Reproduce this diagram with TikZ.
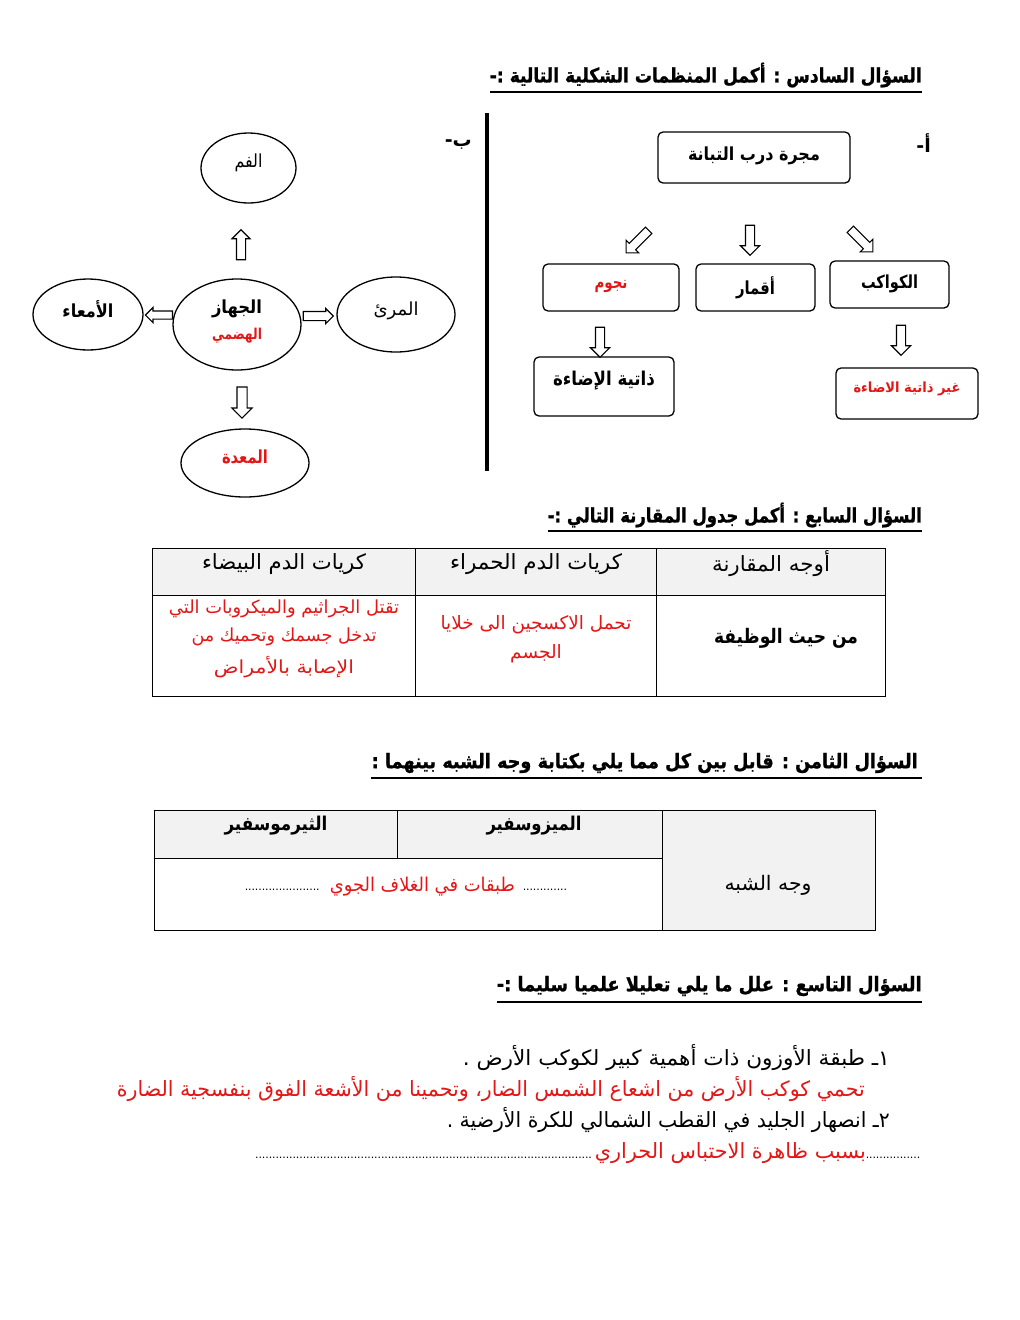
\documentclass[tikz,border=0pt]{standalone}
\usepackage{graphicx}
\usepackage{fontspec}
\setmainfont[Script=Arabic]{DejaVu Sans}
\newfontfamily\heavyfont[Script=Arabic,FakeBold=1.2]{DejaVu Sans Bold}
\TeXXeTstate=1
\usetikzlibrary{shapes.geometric,shapes.arrows}
\definecolor{ansred}{RGB}{228,22,22}
\definecolor{cellgray}{RGB}{242,242,242}
\newcommand{\AR}[1]{\beginR #1\endR}
\newcommand{\fs}[1]{\fontsize{#1}{#1}\selectfont}
\newcommand{\fitw}[2]{\resizebox{#1}{\height}{#2}}
\newcommand{\dotrun}[1]{\hbox to #1{\fs{11}\leaders\hbox to 3.4pt{\hss.\hss}\hfill}}
\begin{document}
\begin{tikzpicture}[x=1pt,y=-1pt,
  box/.style={draw,line width=1.3pt,rounded corners=5pt,inner sep=0pt},
  oval/.style={draw,ellipse,line width=1.3pt,inner sep=0pt},
  harrow/.style n args={3}{draw,fill=white,single arrow,line width=1.1pt,inner xsep=0pt,
    inner ysep={#3/2},single arrow head extend={(#2-#3)/2},single arrow head indent=0pt,
    minimum height=#1,minimum width=#2},
  ttl/.style={anchor=east,inner sep=0pt,font=\heavyfont\fs{20}},
  tbl/.style={line width=0.8pt},
  txt/.style={inner sep=0pt,font=\fs{18}},
  btxt/.style={inner sep=0pt,font=\fs{18}\bfseries},
]
\useasboundingbox[fill=white] (0,0) rectangle (1020,1320);

% ---------- Question 6 ----------
\node[ttl] (t6) at (922,75) {\fitw{432pt}{\AR{السؤال السادس : أكمل المنظمات الشكلية التالية :-}}};
\draw[line width=1.4pt] (490,92) -- (922,92);

% part a
\node[btxt,anchor=east,font=\fs{19}\bfseries] (la) at (931,143) {\AR{أ-}};
\node[box,minimum width=192pt,minimum height=51pt,font=\fs{18}\bfseries,text depth=8pt] (milky) at (754,157.5) {\fitw{132pt}{\AR{مجرة درب التبانة}}};
\node[box,minimum width=136pt,minimum height=47pt,font=\fs{17}\bfseries,text=ansred,text depth=6pt] (stars) at (611,287.5) {\fitw{33pt}{\AR{نجوم}}};
\node[box,minimum width=119pt,minimum height=47pt,font=\fs{18}\bfseries,text depth=4pt] (moons) at (755.5,287.5) {\fitw{39pt}{\AR{أقمار}}};
\node[box,minimum width=119pt,minimum height=47pt,font=\fs{18}\bfseries,text depth=5pt] (planets) at (889.5,284.5) {\fitw{57pt}{\AR{الكواكب}}};
\node[box,minimum width=140pt,minimum height=59pt,font=\fs{19}\bfseries,text depth=16pt] (self) at (604,386.5) {\fitw{102pt}{\AR{ذاتية الإضاءة}}};
\node[box,minimum width=142pt,minimum height=51pt,font=\fs{14}\bfseries,text=ansred,text depth=13pt] (nonself) at (907,393.5) {\fitw{107pt}{\AR{غير ذاتية الاضاءة}}};

\node[harrow={32pt}{17pt}{8pt},rotate=225] (a1) at (639,240) {};
\node[harrow={30pt}{18pt}{8pt},rotate=270] (a2) at (750,238) {};
\node[harrow={32pt}{17pt}{8pt},rotate=315] (a3) at (860,239) {};
\node[harrow={30pt}{18pt}{8pt},rotate=270] (a4) at (600,340) {};
\node[harrow={30pt}{18pt}{8pt},rotate=270] (a5) at (901,338) {};

% divider
\draw[line width=3.5pt] (487,113) -- (487,471);

% part b
\node[btxt,anchor=east,font=\fs{19}\bfseries] (lb) at (472,145) {\AR{ب-}};
\node[oval,minimum width=95pt,minimum height=70pt,font=\fs{18},text depth=14pt] (mouth) at (248.5,168) {\fitw{28pt}{\AR{الفم}}};
\node[oval,minimum width=128pt,minimum height=91pt] (dig) at (237,324.5) {};
\node[btxt] (digA) at (237,309) {\fitw{50pt}{\AR{الجهاز}}};
\node[inner sep=0pt,font=\fs{15}\bfseries,text=ansred] (digB) at (237,336) {\fitw{50pt}{\AR{الهضمي}}};
\node[oval,minimum width=110pt,minimum height=71pt,font=\fs{18}\bfseries,text depth=12pt] (intest) at (88,314.5) {\fitw{51pt}{\AR{الأمعاء}}};
\node[oval,minimum width=118pt,minimum height=75pt,font=\fs{18},text depth=12pt] (eso) at (396,314.5) {\fitw{45pt}{\AR{المرئ}}};
\node[oval,minimum width=128pt,minimum height=68pt,font=\fs{18}\bfseries,text=ansred,text depth=12pt] (stom) at (245,463) {\fitw{46pt}{\AR{المعدة}}};

\node[harrow={30pt}{17pt}{8pt},rotate=90] (b1) at (241,247) {};
\node[harrow={27pt}{14pt}{7pt},rotate=180] (b2) at (161,315) {};
\node[harrow={30pt}{14pt}{8pt},rotate=0] (b3) at (316,316) {};
\node[harrow={31pt}{19pt}{9pt},rotate=270] (b4) at (242,400) {};

% ---------- Question 7 ----------
\node[ttl] (t7) at (922,515) {\fitw{374pt}{\AR{السؤال السابع : أكمل جدول المقارنة التالي :-}}};
\draw[line width=1.4pt] (548,531) -- (922,531);

\fill[cellgray] (152,548) rectangle (885,595);
\draw[tbl] (152,548) rectangle (885,696);
\draw[tbl] (152,595) -- (885,595);
\draw[tbl] (415,548) -- (415,696);
\draw[tbl] (656,548) -- (656,696);

\node[txt,font=\fs{21}] (h1) at (284,564) {\fitw{164pt}{\AR{كريات الدم البيضاء}}};
\node[txt,font=\fs{21}] (h2) at (536,564) {\fitw{172pt}{\AR{كريات الدم الحمراء}}};
\node[txt,font=\fs{21}] (h3) at (771,564) {\fitw{118pt}{\AR{أوجه المقارنة}}};
\node[txt,font=\fs{18},text=ansred,align=center] (c1) at (284,639)
  {\fitw{230pt}{\AR{تقتل الجراثيم والميكروبات التي}}\\[9pt]\fitw{185pt}{\AR{تدخل جسمك وتحميك من}}\\[9pt]\fitw{140pt}{\AR{الإصابة بالأمراض}}};
\node[txt,font=\fs{18.5},text=ansred,align=center] (c2) at (536,639)
  {\fitw{191pt}{\AR{تحمل الاكسجين الى خلايا}}\\[9pt]\AR{الجسم}};
\node[btxt,font=\fs{20}\bfseries] (c3) at (786,638) {\fitw{144pt}{\AR{من حيث الوظيفة}}};

% ---------- Question 8 ----------
\node[ttl] (t8) at (918,763) {\fitw{546pt}{\AR{السؤال الثامن : قابل بين كل مما يلي بكتابة وجه الشبه بينهما :}}};
\draw[line width=1.4pt] (371,778) -- (922,778);

\fill[cellgray] (154,810) rectangle (662,858);
\fill[cellgray] (662,810) rectangle (875,930);
\draw[tbl] (154,810) rectangle (875,930);
\draw[tbl] (154,858) -- (662,858);
\draw[tbl] (397,810) -- (397,858);
\draw[tbl] (662,810) -- (662,930);

\node[btxt,font=\fs{19}\bfseries] (m1) at (276,826) {\fitw{103pt}{\AR{الثيرموسفير}}};
\node[btxt,font=\fs{19}\bfseries] (m2) at (534,826) {\fitw{95pt}{\AR{الميزوسفير}}};
\node[txt,font=\fs{20}] (m3) at (768,885) {\fitw{87pt}{\AR{وجه الشبه}}};
\node[inner sep=0pt,anchor=east] (d1) at (570,890) {\dotrun{47pt}};
\node[txt,text=ansred,anchor=east,font=\fs{19}] (m4) at (515,887) {\fitw{185pt}{\AR{طبقات في الغلاف الجوي}}};
\node[inner sep=0pt,anchor=east] (d2) at (322,890) {\dotrun{77pt}};

% ---------- Question 9 ----------
\node[ttl] (t9) at (922,986) {\fitw{425pt}{\AR{السؤال التاسع : علل ما يلي تعليلا علميا سليما :-}}};
\draw[line width=1.4pt] (497,1002) -- (922,1002);

\node[txt,font=\fs{21},anchor=east] (q1) at (890,1058) {\fitw{427pt}{\AR{١ـ طبقة الأوزون ذات أهمية كبير لكوكب الأرض  .}}};
\node[txt,font=\fs{21},anchor=east,text=ansred] (a9) at (865,1089) {\fitw{748pt}{\AR{تحمي كوكب الأرض من اشعاع الشمس الضار، وتحمينا من الأشعة الفوق بنفسجية الضارة}}};
\node[txt,font=\fs{21},anchor=east] (q2) at (890,1120) {\fitw{443pt}{\AR{٢ـ انصهار الجليد في القطب الشمالي للكرة الأرضية .}}};
\node[inner sep=0pt,anchor=east] (d3) at (922,1158) {\dotrun{56pt}};
\node[txt,font=\fs{21},anchor=east,text=ansred] (b9) at (866,1153) {\fitw{271pt}{\AR{بسبب ظاهرة الاحتباس الحراري}}};
\node[inner sep=0pt,anchor=west] (d4) at (255,1158) {\dotrun{337pt}};
\end{tikzpicture}
\end{document}
